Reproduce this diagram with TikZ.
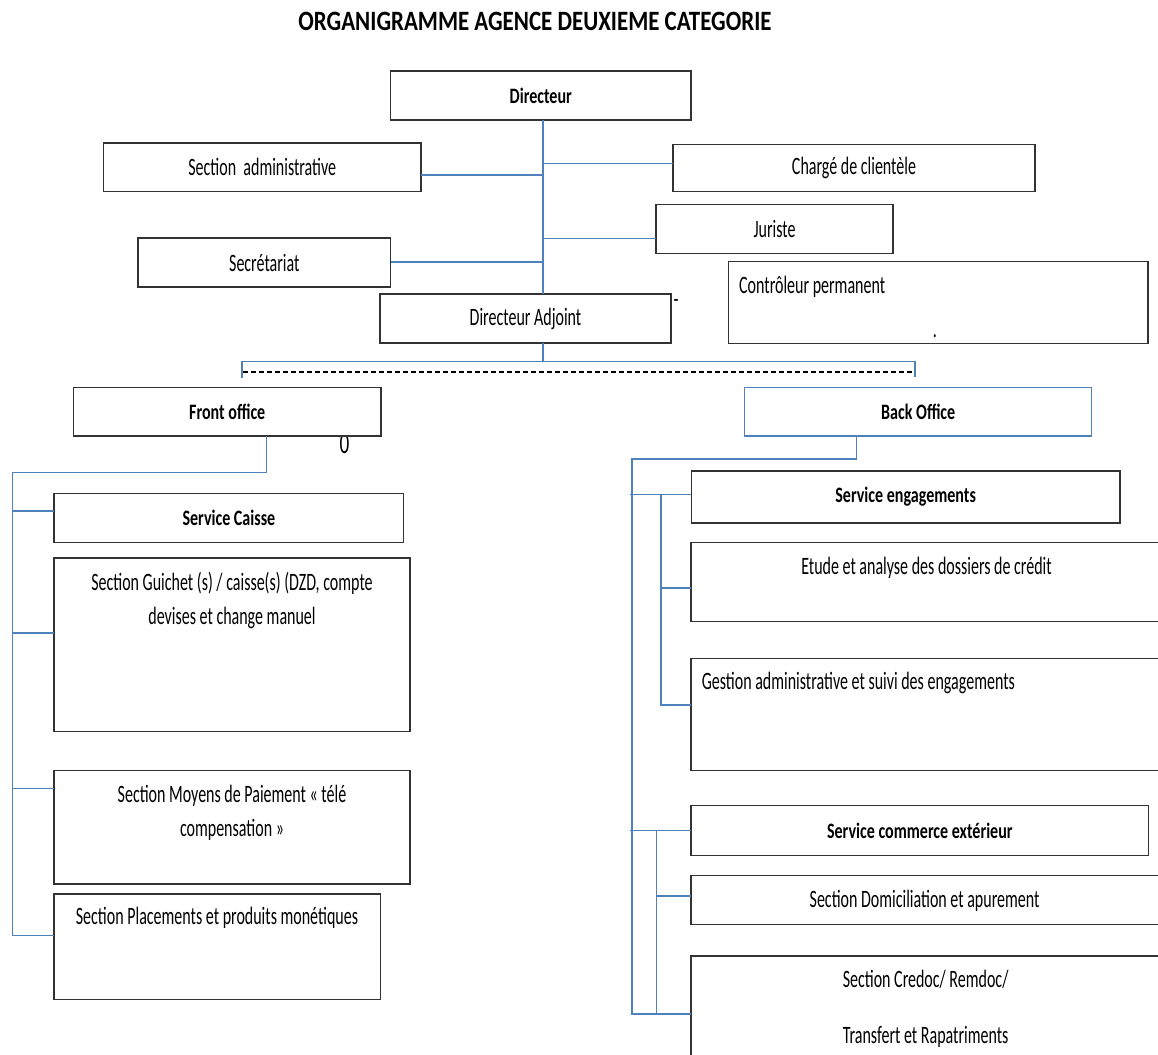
\documentclass[tikz,border=0pt]{standalone}
\usepackage{fontspec}
\setmainfont{Carlito}[FakeStretch=0.64]
\newfontfamily\bfam{Carlito}[FakeStretch=0.73]
\newfontfamily\tfam{Carlito}[FakeStretch=0.82]
\begin{document}
\begin{tikzpicture}[x=1pt,y=-1pt,
  box/.style={draw=black!80, line width=1.2pt, fill=white, inner sep=0pt, outer sep=0pt, anchor=north west},
  bluebox/.style={box, draw={rgb,255:red,79;green,129;blue,189}},
  rtxt/.style={font=\fontsize{25}{34}\selectfont, inner sep=0pt},
  btxt/.style={font=\bfam\bfseries\fontsize{22}{28}\selectfont, inner sep=0pt},
  conn/.style={draw={rgb,255:red,79;green,129;blue,189}, line width=1.3pt},
  dashln/.style={draw=black, line width=1.8pt, dash pattern=on 5pt off 3pt}]
\useasboundingbox (0,0) rectangle (1158,1054);
\fill[white] (0,0) rectangle (1158,1054);
\clip (0,0) rectangle (1158,1054);

% title
\node[font=\tfam\bfseries\fontsize{28}{34}\selectfont, anchor=base, inner sep=0pt] (title) at (535,30.7) {ORGANIGRAMME AGENCE DEUXIEME CATEGORIE};

% upper boxes
\node[box, minimum width=300.4pt, minimum height=49pt] (dir) at (390.6,71) {};
\node[btxt] (dirt) at (dir.center) {Directeur};
\node[box, minimum width=317.4pt, minimum height=48.7pt] (sa) at (103.6,143) {};
\node[rtxt] (sat) at (sa.center) {Section\ \ administrative};
\node[box, minimum width=362pt, minimum height=47pt] (ch) at (673,144.7) {};
\node[rtxt] (cht) at (ch.center) {Chargé de clientèle};
\node[box, minimum width=237pt, minimum height=48.6pt] (ju) at (656,204.7) {};
\node[rtxt] (jut) at (ju.center) {Juriste};
\node[box, minimum width=252.6pt, minimum height=49pt] (sec) at (138,238) {};
\node[rtxt] (sect) at (sec.center) {Secrétariat};
\node[box, minimum width=419.5pt, minimum height=82pt] (ctrl) at (728.5,261.7) {};
\node[rtxt, anchor=west] (ctrlt) at (739,286.7) {Contrôleur permanent};
\node[rtxt, anchor=base] (ctrld) at (935,337) {.};
\node[box, minimum width=291pt, minimum height=49pt] (da) at (380,294) {};
\node[rtxt] (dat) at (da.center) {Directeur Adjoint};
\node[rtxt, anchor=base] (dash) at (676,307) {-};

% coordinates for the upper tree
\coordinate (sp) at (543,0);
\coordinate (ySA) at (0,175);
\coordinate (yCH) at (0,163.3);
\coordinate (yJU) at (0,238.7);
\coordinate (ySEC) at (0,262);
\coordinate (yBAR) at (0,361.7);
\coordinate (lft) at (242,361.7);
\coordinate (rgt) at (915,361.7);
\coordinate (lftd) at (242,378);
\coordinate (rgtd) at (915,377);
\coordinate (dl) at (243,372);
\coordinate (dr) at (913,372);

\draw[conn] (dir.south -| sp) -- (da.north -| sp);
\draw[conn] (sa.east |- ySA) -- (sp |- ySA);
\draw[conn] (sp |- yCH) -- (ch.west |- yCH);
\draw[conn] (sp |- yJU) -- (ju.west |- yJU);
\draw[conn] (sec.east |- ySEC) -- (sp |- ySEC);
\draw[conn] (da.south -| sp) -- (sp |- yBAR);
\draw[conn] (lftd) -- (lft) -- (rgt) -- (rgtd);
\draw[dashln] (dl) -- (dr);

% front office side
\node[font=\fontsize{30}{34}\selectfont, anchor=base, inner sep=0pt] (zero) at (344.5,453) {0};
\node[box, minimum width=307.5pt, minimum height=48.3pt] (fo) at (73.5,387.7) {};
\node[btxt] (fot) at (fo.center) {Front office};
\node[box, minimum width=349.8pt, minimum height=48.6pt] (sc) at (54,493.7) {};
\node[btxt] (sct) at (sc.center) {Service Caisse};
\node[box, minimum width=356pt, minimum height=173.7pt] (sg) at (54,558) {};
\node[rtxt, align=center] (sgt) at (232,600.5) {Section Guichet (s) / caisse(s) (DZD, compte\\devises et change manuel};
\node[box, minimum width=356pt, minimum height=113.3pt] (mp) at (54,770.7) {};
\node[rtxt, align=center] (mpt) at (232,812.5) {Section Moyens de Paiement « télé\\compensation »};
\node[box, minimum width=326.8pt, minimum height=105.3pt] (pl) at (54,894) {};
\node[rtxt] (plt) at (217,918.3) {Section Placements et produits monétiques};

\coordinate (fox) at (266.7,0);
\coordinate (fl) at (12.6,0);
\coordinate (yFO) at (0,472.7);
\coordinate (ySC) at (0,511);
\coordinate (ySG) at (0,633);
\coordinate (yMP) at (0,788.7);
\coordinate (yPL) at (0,935.7);
\draw[conn] (fo.south -| fox) -- (fox |- yFO) -- (fl |- yFO) -- (fl |- yPL) -- (pl.west |- yPL);
\draw[conn] (fl |- ySC) -- (sc.west |- ySC);
\draw[conn] (fl |- ySG) -- (sg.west |- ySG);
\draw[conn] (fl |- yMP) -- (mp.west |- yMP);

% back office side
\node[bluebox, minimum width=346.8pt, minimum height=48.3pt] (bo) at (744.8,387.7) {};
\node[btxt] (bot) at (bo.center) {Back Office};
\node[box, minimum width=428.7pt, minimum height=52pt] (se) at (691.3,471) {};
\node[btxt] (set) at (se.center) {Service engagements};
\node[box, minimum width=475pt, minimum height=79pt] (et) at (691,542.7) {};
\node[rtxt] (ett) at (926.5,568.3) {Etude et analyse des dossiers de crédit};
\node[box, minimum width=475pt, minimum height=112pt] (ge) at (691,658.3) {};
\node[rtxt, anchor=west] (get) at (701.6,682.7) {Gestion administrative et suivi des engagements};
\node[box, minimum width=457.7pt, minimum height=50pt] (sce) at (691,805.7) {};
\node[btxt] (scet) at (sce.center) {Service commerce extérieur};
\node[box, minimum width=475pt, minimum height=48.6pt] (dom) at (691,875.7) {};
\node[rtxt] (domt) at (924.6,901) {Section Domiciliation et apurement};
\node[box, minimum width=475pt, minimum height=110pt] (cr) at (691,956) {};
\node[rtxt, align=center] (crt) at (925.6,1009) {Section Credoc/ Remdoc/\\[22pt]Transfert et Rapatriments};

\coordinate (box) at (856.4,0);
\coordinate (bl) at (632,0);
\coordinate (bla) at (629.8,0);
\coordinate (b2) at (661,0);
\coordinate (b3) at (656.3,0);
\coordinate (yBO) at (0,459);
\coordinate (ySE) at (0,494.3);
\coordinate (yET) at (0,588);
\coordinate (yGE) at (0,705);
\coordinate (ySCE) at (0,830.7);
\coordinate (yDOM) at (0,896);
\coordinate (yCR) at (0,1014);
\draw[conn] (bo.south -| box) -- (box |- yBO) -- (bl |- yBO) -- (bl |- yCR) -- (cr.west |- yCR);
\draw[conn] (bla |- ySE) -- (se.west |- ySE);
\draw[conn] (b2 |- ySE) -- (b2 |- yGE) -- (ge.west |- yGE);
\draw[conn] (b2 |- yET) -- (et.west |- yET);
\draw[conn] (bla |- ySCE) -- (sce.west |- ySCE);
\draw[conn] (b3 |- ySCE) -- (b3 |- yCR);
\draw[conn] (b3 |- yDOM) -- (dom.west |- yDOM);
\end{tikzpicture}
\end{document}
